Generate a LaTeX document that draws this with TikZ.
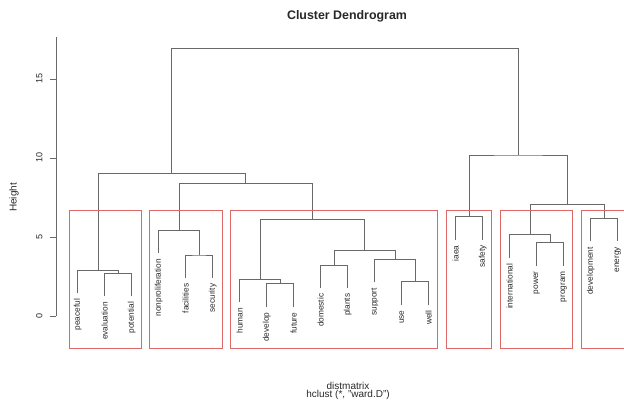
\documentclass[tikz,border=0pt]{standalone}
\usepackage{fontspec}
\setmainfont{Liberation Sans}
\usepackage{xcolor}
\usetikzlibrary{positioning}
\definecolor{linegray}{RGB}{105,105,105}
\definecolor{boxred}{RGB}{222,104,104}
\definecolor{textgray}{RGB}{40,40,40}

\begin{document}
\begin{tikzpicture}[x=1pt,y=1pt,
                link/.style={draw=linegray,line width=0.9pt},
                leaf/.style={rotate=90,anchor=east,inner xsep=5.5pt,inner ysep=1pt,
                             text=textgray,font=\fontsize{8.3}{9}\selectfont},
                ticklabel/.style={rotate=90,text=textgray,font=\fontsize{9}{10}\selectfont},
                caption/.style={inner sep=0pt,text=textgray,font=\fontsize{10}{11}\selectfont},
                groupbox/.style={draw=boxred,line width=0.9pt}]
                \clip (0,0) rectangle (624,403);

                % Title and axis captions
                \node[text=textgray,font=\bfseries\fontsize{12.4}{14}\selectfont] (title) at (347,386.3) {Cluster Dendrogram};
                \node[caption,rotate=90] (ylab) at (14,205.5) {Height};
                \node[caption] (xlab) at (348,17.5) {distmatrix};
                \node[caption] (sub) [below=1pt of xlab] {hclust (*, "ward.D")};

                \begin{scope}[shift={(0,87)},y=15.8pt]
                % Height axis
                \draw[link] (56,0) -- (56,17.68);
                \draw[link] (56,0) -- (50,0);
                \draw[link] (56,5) -- (50,5);
                \draw[link] (56,10) -- (50,10);
                \draw[link] (56,15) -- (50,15);
                \node[ticklabel] (t0) at (39.3,0) {0};
                \node[ticklabel] (t5) at (39.3,5) {5};
                \node[ticklabel] (t10) at (39.3,10) {10};
                \node[ticklabel] (t15) at (39.3,15) {15};

                % Define the leaves
                \node[leaf] (peaceful)         at (77.7,1.43)  {peaceful};
                \node[leaf] (evaluation)       at (104.7,1.24) {evaluation};
                \node[leaf] (potential)        at (131.7,1.24) {potential};
                \node[leaf] (nonproliferation) at (158.7,3.96) {nonproliferation};
                \node[leaf] (facilities)       at (185.7,2.40) {facilities};
                \node[leaf] (security)         at (212.7,2.40) {security};
                \node[leaf] (human)            at (239.7,0.86) {human};
                \node[leaf] (develop)          at (266.7,0.57) {develop};
                \node[leaf] (future)           at (293.7,0.57) {future};
                \node[leaf] (domestic)         at (320.7,1.77) {domestic};
                \node[leaf] (plants)           at (347.7,1.77) {plants};
                \node[leaf] (support)          at (374.7,2.13) {support};
                \node[leaf] (use)              at (401.7,0.71) {use};
                \node[leaf] (well)             at (428.7,0.71) {well};
                \node[leaf] (iaea)             at (455.7,4.82) {iaea};
                \node[leaf] (safety)           at (482.7,4.82) {safety};
                \node[leaf] (international)    at (509.7,3.67) {international};
                \node[leaf] (power)            at (536.7,3.18) {power};
                \node[leaf] (program)          at (563.7,3.18) {program};
                \node[leaf] (development)      at (590.7,4.72) {development};
                \node[leaf] (energy)           at (617.7,4.72) {energy};

                % Define the merge points
                \coordinate (ep)  at (118.2,2.70);
                \coordinate (pe)  at (97.95,2.89);
                \coordinate (fs)  at (199.2,3.86);
                \coordinate (nf)  at (178.95,5.42);
                \coordinate (df)  at (280.2,2.03);
                \coordinate (hd)  at (259.95,2.32);
                \coordinate (dp)  at (334.2,3.23);
                \coordinate (uw)  at (415.2,2.17);
                \coordinate (su)  at (394.95,3.59);
                \coordinate (ds)  at (364.58,4.16);
                \coordinate (hu)  at (312.26,6.08);
                \coordinate (nh)  at (245.6,8.40);
                \coordinate (lft) at (171.8,9.03);
                \coordinate (is)  at (469.2,6.28);
                \coordinate (pp)  at (550.2,4.64);
                \coordinate (ip)  at (529.95,5.13);
                \coordinate (de)  at (604.2,6.18);
                \coordinate (id)  at (567.1,7.09);
                \coordinate (rgt) at (518.15,10.19);
                \coordinate (top) at (344.98,16.96);

                % Connect the leaves and clusters
                \draw[link] (evaluation.east) |- (ep) -| (potential.east);
                \draw[link] (peaceful.east) |- (pe) -| (ep);
                \draw[link] (facilities.east) |- (fs) -| (security.east);
                \draw[link] (nonproliferation.east) |- (nf) -| (fs);
                \draw[link] (develop.east) |- (df) -| (future.east);
                \draw[link] (human.east) |- (hd) -| (df);
                \draw[link] (domestic.east) |- (dp) -| (plants.east);
                \draw[link] (use.east) |- (uw) -| (well.east);
                \draw[link] (support.east) |- (su) -| (uw);
                \draw[link] (dp) |- (ds) -| (su);
                \draw[link] (hd) |- (hu) -| (ds);
                \draw[link] (nf) |- (nh) -| (hu);
                \draw[link] (pe) |- (lft) -| (nh);
                \draw[link] (iaea.east) |- (is) -| (safety.east);
                \draw[link] (power.east) |- (pp) -| (program.east);
                \draw[link] (international.east) |- (ip) -| (pp);
                \draw[link] (development.east) |- (de) -| (energy.east);
                \draw[link] (ip) |- (id) -| (de);
                \draw[link] (is) |- (rgt) -| (id);
                \draw[link] (lft) |- (top) -| (rgt);

                % Boxes round the groups
                \draw[groupbox] (69,-2.04) rectangle (141.7,6.71);
                \draw[groupbox] (149.7,-2.04) rectangle (222.3,6.71);
                \draw[groupbox] (230.7,-2.04) rectangle (437.7,6.71);
                \draw[groupbox] (446,-2.04) rectangle (491.7,6.71);
                \draw[groupbox] (500,-2.04) rectangle (572.7,6.71);
                \draw[groupbox] (581,-2.04) rectangle (630,6.71);
                \end{scope}

            \end{tikzpicture}
\end{document}
